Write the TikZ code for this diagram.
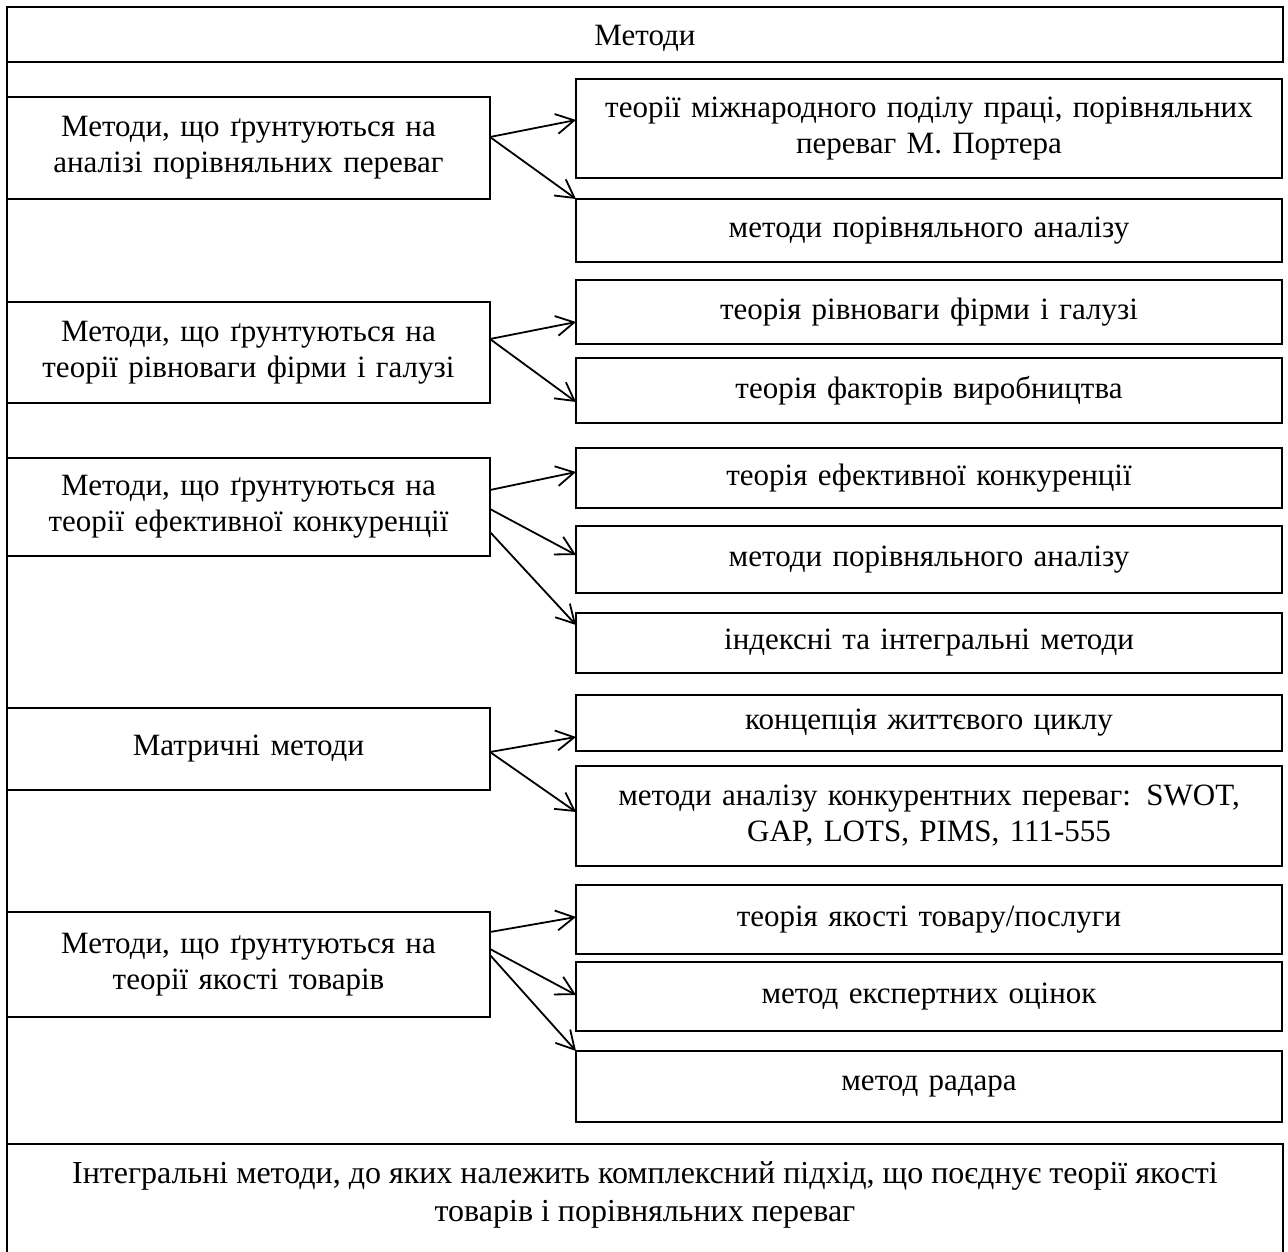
\documentclass[tikz,border=0pt]{standalone}
\usepackage{fontspec}
\setmainfont{Liberation Serif}
\usetikzlibrary{arrows.meta}
\tikzset{
  frame/.style={draw, line width=1.4pt, inner sep=0pt, outer sep=0pt, rectangle},
  lbox/.style={frame, minimum width=483pt, align=center, text width=470pt},
  rbox/.style={frame, minimum width=706pt, align=center, text width=690pt},
  txt/.style={align=center, inner sep=0pt},
  arr/.style={line width=1.8pt, -{Straight Barb[length=18pt, width=20pt, line width=1.8pt]}},
}
\begin{document}
\begin{tikzpicture}[x=1pt, y=-1pt, font=\fontsize{31}{36}\selectfont]
\useasboundingbox (0,0) rectangle (1288,1252);
\clip (0,0) rectangle (1288,1252);
% header
\node[frame, minimum width=1276pt, minimum height=55pt] (head) at (645,34.5) {};
\node[txt] (headtxt) at (645,38) {Методи};
% left boxes
\node[lbox, minimum height=102pt] (l1) at (248.5,148) {Методи, що ґрунтуються на\\аналізі порівняльних переваг};
\node[lbox, minimum height=101pt] (l2) at (248.5,352.5) {Методи, що ґрунтуються на\\теорії рівноваги фірми і галузі};
\node[lbox, minimum height=98pt] (l3) at (248.5,507) {Методи, що ґрунтуються на\\теорії ефективної конкуренції};
\node[lbox, minimum height=82pt] (l4) at (248.5,749) {Матричні методи};
\node[lbox, minimum height=105pt] (l5) at (248.5,964.5) {Методи, що ґрунтуються на\\теорії якості товарів};
% right boxes
\node[rbox, minimum height=99pt] (r1) at (929,128.5) {теорії міжнародного поділу праці, порівняльних\\переваг М. Портера};
\node[rbox, minimum height=63pt] (r2) at (929,230.5) {методи порівняльного аналізу};
\node[rbox, minimum height=64pt] (r3) at (929,312) {теорія рівноваги фірми і галузі};
\node[rbox, minimum height=65pt] (r4) at (929,390.5) {теорія факторів виробництва};
\node[rbox, minimum height=60pt] (r5) at (929,478) {теорія ефективної конкуренції};
\node[rbox, minimum height=67pt] (r6) at (929,559.5) {методи порівняльного аналізу};
\node[rbox, minimum height=60pt] (r7) at (929,643) {індексні та інтегральні методи};
\node[rbox, minimum height=56pt] (r8) at (929,723) {концепція життєвого циклу};
\node[rbox, minimum height=100pt] (r9) at (929,816) {методи аналізу конкурентних переваг: SWOT,\\GAP, LOTS, PIMS, 111-555};
\node[rbox, minimum height=69pt] (r10) at (929,919.5) {теорія якості товару/послуги};
\node[rbox, minimum height=69pt] (r11) at (929,996.5) {метод експертних оцінок};
\node[rbox, minimum height=71pt] (r12) at (929,1086.5) {метод радара};
% bottom box
\node[frame, anchor=north west, minimum width=1276pt, minimum height=130pt] (botbox) at (7,1144) {};
\node[txt, font=\fontsize{32}{36}\selectfont] (bot) at (645,1195) {Інтегральні методи, до яких належить комплексний підхід, що поєднує теорії якості\\[2pt]товарів і порівняльних переваг};
% left frame line
\draw[line width=1.4pt] (head.south west) -- (botbox.north west);
% arrows
\draw[arr] ([yshift=11pt]l1.east) -- ([yshift=8.5pt]r1.west);
\draw[arr] ([yshift=11pt]l1.east) -- (r2.north west);
\draw[arr] ([yshift=13.5pt]l2.east) -- ([yshift=-10pt]r3.west);
\draw[arr] ([yshift=13.5pt]l2.east) -- ([yshift=-11.5pt]r4.west);
\draw[arr] ([yshift=17pt]l3.east) -- ([yshift=6pt]r5.west);
\draw[arr] ([yshift=-2pt]l3.east) -- ([yshift=4.5pt]r6.west);
\draw[arr] ([yshift=-25pt]l3.east) -- ([yshift=18pt]r7.west);
\draw[arr] ([yshift=-3pt]l4.east) -- ([yshift=-14pt]r8.west);
\draw[arr] ([yshift=-3pt]l4.east) -- ([yshift=4pt]r9.west);
\draw[arr] ([yshift=32.5pt]l5.east) -- ([yshift=2.5pt]r10.west);
\draw[arr] ([yshift=15.5pt]l5.east) -- ([yshift=1.5pt]r11.west);
\draw[arr] ([yshift=9.5pt]l5.east) -- (r12.north west);
\end{tikzpicture}
\end{document}
